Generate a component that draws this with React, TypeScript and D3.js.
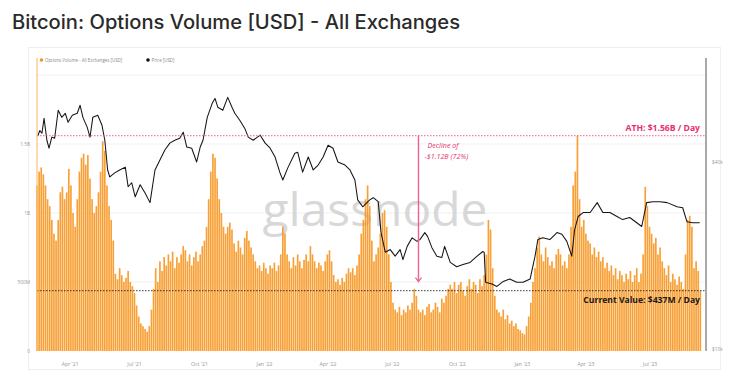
import React from "react";
import * as d3 from "d3";

const TITLE = "Bitcoin: Options Volume [USD] - All Exchanges";
const LEGEND_VOLUME = "Options Volume - All Exchanges [USD]";
const LEGEND_PRICE = "Price [USD]";

// Options volume, in $M, one value every 3 days from the start date
const volumeStart = "2021-02-13";
const volumeStepDays = 3;
const volumeM = [
  1200, 1300, 1330, 1280, 1200, 1100, 1050, 950, 850, 800, 950, 1150, 1190, 1100, 1150,
  1320, 1200, 1000, 900, 1100, 1300,
  1400, 1430, 1350, 1420, 1250, 1100,
  1000, 1050, 1150, 1300, 1520, 1450, 1200,
  1050, 950, 800,
  560, 520, 600, 550, 500, 530, 580, 500, 470,
  420, 330, 250, 200, 180, 160, 140, 180,
  300, 450, 600,
  500, 650, 580, 680, 620, 700, 650, 720, 600, 680, 640, 700, 760, 730, 650, 700, 620, 680, 720, 650, 700, 760, 800,
  900, 1100, 1300, 1430, 1400, 1250, 1100, 1000,
  900, 850, 900, 930, 880,
  780, 720, 800, 750, 700, 820, 870, 800, 750,
  700, 650, 600, 620, 580, 640, 600, 560, 620, 600, 640, 580, 620, 700, 900, 850,
  700, 650, 600, 680, 620, 700, 650, 600, 660, 700, 650,
  760, 700, 650, 600, 640, 620, 580, 650, 700, 730, 650,
  550, 500, 520, 480, 530, 500,
  560, 600, 570, 600, 550, 620, 700, 850,
  950, 1100, 1200, 1050, 800, 650, 700, 750, 850, 1000, 1020, 900, 700,
  500, 350, 300, 280, 320, 260, 300, 280, 330, 300, 350, 450, 400, 300, 280,
  300, 260, 320, 340, 280, 300, 350, 320, 280, 380, 350, 400, 450, 480,
  450, 500, 420, 480, 500, 440,
  400, 470, 520, 450, 500, 480, 420, 520, 470, 550,
  700, 950, 880, 600,
  400, 300, 280, 250, 300, 230, 260, 200, 220, 180, 200, 160, 150, 130, 120,
  180, 250, 350, 500, 600,
  750, 830, 700, 650, 750, 680, 620,
  650, 600, 700, 740, 700, 620, 650, 600, 700, 900,
  1200, 1300, 1560, 1100, 900,
  950, 850, 800, 780, 700, 750, 680, 720, 650,
  680, 600, 640, 580, 620, 550, 600, 520, 580, 550, 500, 560, 520, 580, 500, 550, 600, 500, 560, 700,
  1190, 1050, 900, 850, 780, 820, 700, 750,
  650, 600, 550, 620, 500, 560, 520, 480, 540, 500, 450,
  700, 950, 980, 900,
  600, 650, 580, 437,
];

// BTC price, $k
const priceDates = [
  "2021-02-14", "2021-02-17", "2021-02-20", "2021-02-23", "2021-02-27", "2021-03-02", "2021-03-06", "2021-03-10",
  "2021-03-15", "2021-03-20", "2021-03-25", "2021-03-29", "2021-04-04", "2021-04-11", "2021-04-15", "2021-04-19",
  "2021-04-25", "2021-04-29", "2021-05-03", "2021-05-10", "2021-05-16", "2021-05-20", "2021-05-24", "2021-05-27",
  "2021-06-03", "2021-06-10", "2021-06-18", "2021-06-22", "2021-06-27", "2021-07-02", "2021-07-09", "2021-07-16",
  "2021-07-23", "2021-07-30", "2021-08-06", "2021-08-13", "2021-08-20", "2021-08-27", "2021-09-03", "2021-09-08",
  "2021-09-13", "2021-09-20", "2021-09-27", "2021-10-02", "2021-10-06", "2021-10-12", "2021-10-19", "2021-10-23",
  "2021-10-27", "2021-11-03", "2021-11-10", "2021-11-16", "2021-11-20", "2021-11-27", "2021-12-04", "2021-12-09",
  "2021-12-16", "2021-12-26", "2022-01-02", "2022-01-09", "2022-01-16", "2022-01-23", "2022-01-27", "2022-02-03",
  "2022-02-13", "2022-02-17", "2022-02-24", "2022-03-04", "2022-03-11", "2022-03-18", "2022-03-25", "2022-04-01",
  "2022-04-08", "2022-04-15", "2022-04-25", "2022-05-02", "2022-05-09", "2022-05-13", "2022-05-20", "2022-05-30",
  "2022-06-04", "2022-06-11", "2022-06-15", "2022-06-21", "2022-06-28", "2022-07-05", "2022-07-12", "2022-07-16",
  "2022-07-22", "2022-07-29", "2022-08-05", "2022-08-09", "2022-08-16", "2022-08-20", "2022-08-26", "2022-09-02",
  "2022-09-09", "2022-09-13", "2022-09-21", "2022-09-30", "2022-10-09", "2022-10-19", "2022-10-29", "2022-11-06",
  "2022-11-08", "2022-11-10", "2022-11-19", "2022-11-26", "2022-12-05", "2022-12-14", "2022-12-24", "2023-01-02",
  "2023-01-12", "2023-01-19", "2023-01-23", "2023-01-30", "2023-02-09", "2023-02-19", "2023-02-26", "2023-03-05",
  "2023-03-12", "2023-03-16", "2023-03-21", "2023-03-28", "2023-04-07", "2023-04-17", "2023-04-25", "2023-05-05",
  "2023-05-15", "2023-05-23", "2023-06-02", "2023-06-12", "2023-06-19", "2023-06-26", "2023-07-05", "2023-07-15",
  "2023-07-25", "2023-08-08", "2023-08-16", "2023-08-22", "2023-08-30", "2023-09-09",
];
const priceK = [
  48.5, 50.5, 49.5, 55.3, 47.0, 44.3, 48.1, 47.7,
  58.7, 55.7, 57.4, 53.7, 56.6, 57.4, 60.9, 55.7,
  51.8, 48.1, 55.7, 56.6, 52.5, 47.0, 37.7, 35.8,
  36.9, 37.7, 38.5, 33.3, 34.3, 30.9, 33.8, 31.8,
  29.6, 37.7, 40.6, 43.7, 46.0, 47.0, 47.7, 49.9,
  44.7, 44.3, 40.0, 44.7, 47.0, 55.7, 61.8, 64.1,
  60.0, 58.7, 64.6, 60.0, 57.4, 54.5, 51.4, 48.1,
  47.0, 48.8, 46.0, 44.3, 41.5, 36.9, 35.0, 38.3,
  42.7, 43.0, 37.1, 41.5, 37.7, 39.1, 41.5, 45.3,
  44.3, 40.0, 39.1, 37.7, 35.0, 30.2, 28.7, 30.2,
  30.7, 29.8, 23.7, 20.5, 20.9, 19.9, 20.9, 19.4,
  21.4, 22.8, 22.2, 22.5, 23.7, 23.0, 21.2, 19.9,
  19.7, 21.4, 19.0, 18.4, 18.7, 19.0, 19.9, 20.6,
  20.5, 16.4, 16.2, 15.9, 16.5, 16.8, 16.4, 16.4,
  16.8, 19.9, 22.5, 22.8, 22.5, 23.7, 23.4, 22.2,
  19.9, 24.2, 26.7, 27.5, 27.5, 29.6, 27.5, 27.5,
  26.7, 26.1, 26.5, 25.5, 24.8, 29.6, 29.8, 29.8,
  29.6, 28.7, 28.5, 25.7, 25.5, 25.5,
];

const volumeTicks = [0, 500e6, 1e9, 1.5e9];
const volumeTickLabels = ["0", "500M", "1B", "1.5B"];
const priceTicks = [10000, 40000];
const priceTickLabels = ["$10k", "$40k"];
const xTickDates = [
  "2021-04-01", "2021-07-01", "2021-10-01", "2022-01-01", "2022-04-01",
  "2022-07-01", "2022-10-01", "2023-01-01", "2023-04-01", "2023-07-01",
];

const athValue = 1.56e9;
const athLabel = "ATH: $1.56B / Day";
const currentValue = 437e6;
const currentLabel = "Current Value: $437M / Day";
const declineDate = "2022-08-07";
const declineLines = ["Decline of", "-$1.12B (72%)"];

const W = 750;
const H = 381;
const LEFT = 37;
const RIGHT = 706;
const BOTTOM = 351;

export default function App() {
  const parse = (s: string) => new Date(s + "T00:00:00Z");
  const x = d3.scaleUtc().domain([parse("2021-02-13"), parse("2023-09-18")]).range([LEFT, RIGHT]);
  const yV = d3.scaleLinear().domain([0, 2e9]).range([BOTTOM, 75]);
  const yP = d3.scaleLog().domain([10000, 40000]).range([349, 162]);

  const start = parse(volumeStart);
  const volume = volumeM.map((v, i) => ({ date: d3.utcDay.offset(start, i * volumeStepDays), v: v * 1e6 }));
  const price = priceDates.map((d, i) => ({ date: parse(d), p: priceK[i] * 1000 }));
  const step = x(d3.utcDay.offset(start, volumeStepDays)) - x(start);
  const bw = Math.max(0.6, step - 0.45);

  const line = d3
    .line<{ date: Date; p: number }>()
    .x((d) => x(d.date))
    .y((d) => yP(d.p));

  const fmt = d3.utcFormat("%b '%y");
  const xd = x(parse(declineDate));
  const smallFont = "'Open Sans', 'Noto Sans', sans-serif";

  return (
    <svg width={W} height={H} style={{ position: "absolute", left: 0, top: 0, background: "#fff" }}>
      <text
        x={12}
        y={29}
        fontFamily="Inter, 'Noto Sans', sans-serif"
        fontSize={19.5}
        fontWeight={500}
        fill="#2a2a2a"
        textLength={448}
        lengthAdjust="spacingAndGlyphs"
      >
        {TITLE}
      </text>

      <rect x={28.5} y={47.5} width={692} height={322} fill="none" stroke="#efefef" />

      {/* legend */}
      <circle cx={41.5} cy={60} r={1.8} fill="#f7931a" />
      <text x={45} y={61.6} fontFamily={smallFont} fontSize={4.4} fill="#888">{LEGEND_VOLUME}</text>
      <circle cx={148} cy={60} r={1.8} fill="#111" />
      <text x={151.5} y={61.6} fontFamily={smallFont} fontSize={4.4} fill="#888">{LEGEND_PRICE}</text>

      {/* grid */}
      {volumeTicks.slice(1).concat([2e9]).map((t) => (
        <line key={t} x1={LEFT} x2={RIGHT} y1={yV(t)} y2={yV(t)} stroke="#eeeeee" strokeWidth={0.8} />
      ))}

      {/* watermark */}
      <text
        x={375}
        y={226}
        textAnchor="middle"
        fontFamily="'Open Sans', 'Noto Sans', sans-serif"
        fontSize={46}
        fill="#c8c8c8"
        opacity={0.7}
        textLength={225}
        lengthAdjust="spacingAndGlyphs"
      >
        glassnode
      </text>

      {/* bars */}
      {volume.map((d, i) => (
        <rect
          key={i}
          x={x(d.date) - bw / 2}
          y={yV(d.v)}
          width={bw}
          height={BOTTOM - yV(d.v)}
          fill="#f7961f"
          opacity={0.9}
        />
      ))}

      {/* price */}
      <path d={line(price) || ""} fill="none" stroke="#151515" strokeWidth={1.05} strokeLinejoin="round" />

      {/* ATH line */}
      <line x1={LEFT} x2={RIGHT} y1={yV(athValue)} y2={yV(athValue)} stroke="#e84a7f" strokeWidth={0.9} strokeDasharray="1.5,1.5" />
      <text x={700} y={yV(athValue) - 5} textAnchor="end" fontFamily="'Open Sans', sans-serif" fontWeight={700} fontSize={8.6} fill="#e8306c">
        {athLabel}
      </text>

      {/* current value line */}
      <line x1={LEFT} x2={RIGHT} y1={yV(currentValue)} y2={yV(currentValue)} stroke="#222" strokeWidth={0.9} strokeDasharray="1.5,1.5" />
      <text x={700} y={yV(currentValue) + 12} textAnchor="end" fontFamily="'Open Sans', sans-serif" fontWeight={700} fontSize={8.6} fill="#1a1a1a">
        {currentLabel}
      </text>

      {/* decline arrow */}
      <line x1={xd} x2={xd} y1={yV(athValue)} y2={yV(currentValue) - 10} stroke="#ee5f93" strokeWidth={1.4} />
      <path
        d={`M${xd - 3},${yV(currentValue) - 13} L${xd},${yV(currentValue) - 9} L${xd + 3},${yV(currentValue) - 13}`}
        fill="none"
        stroke="#ee5f93"
        strokeWidth={1.2}
      />
      {declineLines.map((t, i) => (
        <text key={i} x={xd + (i === 0 ? 9 : 6)} y={yV(athValue) + 12.5 + i * 10.5} fontFamily="'Open Sans', sans-serif" fontStyle="italic" fontSize={7.2} fill="#e8306c">
          {t}
        </text>
      ))}

      {/* axes lines */}
      <line x1={LEFT} x2={LEFT} y1={58} y2={BOTTOM} stroke="#f9c27b" strokeWidth={1.2} />
      <line x1={RIGHT} x2={RIGHT} y1={58} y2={BOTTOM} stroke="#555" strokeWidth={1} />

      {/* left ticks */}
      {volumeTicks.map((t, i) => (
        <text key={t} x={30} y={yV(t) + 1.6} textAnchor="end" fontFamily={smallFont} fontSize={4.8} fill="#999">
          {volumeTickLabels[i]}
        </text>
      ))}
      {/* right ticks */}
      {priceTicks.map((t, i) => (
        <text key={t} x={712} y={yP(t) + 1.6} fontFamily={smallFont} fontSize={4.8} fill="#999">
          {priceTickLabels[i]}
        </text>
      ))}
      {/* x ticks */}
      {xTickDates.map((d) => (
        <text key={d} x={x(parse(d))} y={366} textAnchor="middle" fontFamily={smallFont} fontSize={5.2} fill="#999">
          {fmt(parse(d))}
        </text>
      ))}
    </svg>
  );
}
